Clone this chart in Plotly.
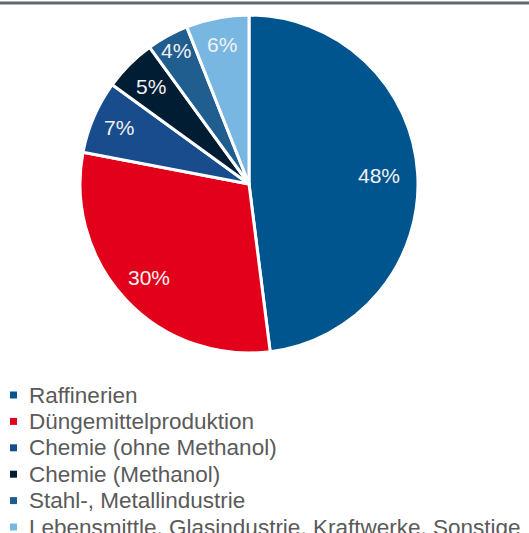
import math
import plotly.graph_objects as go

# Anteil am Wasserstoffbedarf nach Sektor (in %)
sectors = [
    "Raffinerien",
    "Düngemittelproduktion",
    "Chemie (ohne Methanol)",
    "Chemie (Methanol)",
    "Stahl-, Metallindustrie",
    "Lebensmittle, Glasindustrie, Kraftwerke, Sonstige",
]
shares = [48, 30, 7, 5, 4, 6]
colors = ["#00558f", "#e3001b", "#184c8d", "#001d33", "#1f5e8e", "#79b7e3"]

W, H = 529, 533
FONT = "Liberation Sans, Arial, sans-serif"

# Kreis: Mittelpunkt und Radius in Pixeln
CX, CY, R = 249, 184, 169
# relativer Abstand der Prozentwerte vom Mittelpunkt, je Segment
label_radius = [0.77, 0.81, 0.84, 0.82, 0.9, 0.84]

fig = go.Figure()

fig.add_trace(go.Pie(
    labels=sectors,
    values=shares,
    sort=False,
    direction="clockwise",
    rotation=0,
    marker=dict(colors=colors, line=dict(color="white", width=3)),
    textinfo="none",
    domain=dict(x=[(CX - R) / W, (CX + R) / W], y=[(H - CY - R) / H, (H - CY + R) / H]),
    showlegend=False,
    hoverinfo="label+percent",
))

# Prozentwerte in den Segmenten (Winkel aus den Anteilen, im Uhrzeigersinn ab 12 Uhr)
total = sum(shares)
cum = 0
for v, rf in zip(shares, label_radius):
    mid = (cum + v / 2) / total * 2 * math.pi
    cum += v
    fig.add_annotation(
        x=CX + rf * R * math.sin(mid), y=CY - rf * R * math.cos(mid),
        xref="x", yref="y", text=f"{v}%", showarrow=False,
        xanchor="center", yanchor="middle",
        font=dict(family=FONT, size=21, color="#f2f2f2"),
    )

# Legende: kleine Quadrate plus Beschriftung, zeilenweise untereinander
row_top, row_step = 395, 26.4
rows_y = [row_top + i * row_step for i in range(len(sectors))]
fig.add_trace(go.Scatter(
    x=[13.5] * len(sectors),
    y=rows_y,
    mode="markers",
    marker=dict(symbol="square", size=7, color=colors, line=dict(width=0)),
    showlegend=False,
    hoverinfo="skip",
))
for name, y in zip(sectors, rows_y):
    fig.add_annotation(
        x=27, y=y, xref="x", yref="y",
        text=name, showarrow=False,
        xanchor="left", yanchor="middle",
        font=dict(family=FONT, size=22.5, color="#5a5a5a"),
    )

# Graue Linie am oberen Rand
fig.add_shape(type="line", xref="paper", yref="paper",
              x0=0, x1=1, y0=1 - 3 / H, y1=1 - 3 / H,
              line=dict(color="#5f6670", width=3))

fig.update_layout(
    width=W, height=H,
    margin=dict(l=0, r=0, t=0, b=0),
    paper_bgcolor="white",
    plot_bgcolor="white",
    xaxis=dict(range=[0, W], visible=False, fixedrange=True, domain=[0, 1]),
    yaxis=dict(range=[H, 0], visible=False, fixedrange=True, domain=[0, 1]),
)

fig.write_html("out.html")
